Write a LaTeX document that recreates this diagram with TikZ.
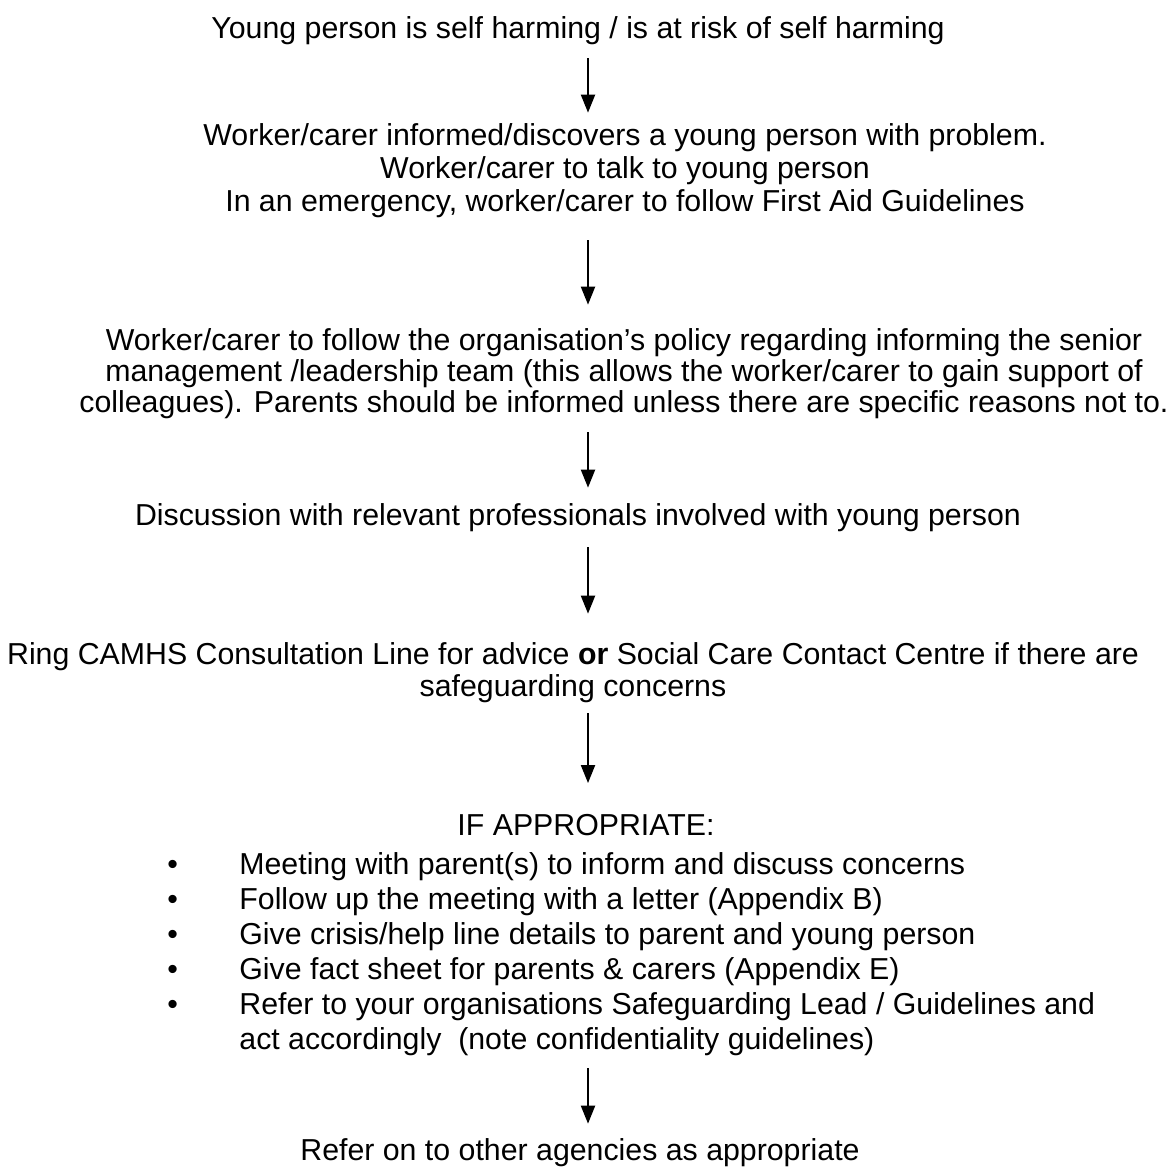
\documentclass[tikz,border=0pt]{standalone}
\usepackage{fontspec}
\setmainfont{Liberation Sans}
\usetikzlibrary{arrows.meta}

\tikzset{
  steptext/.style={inner sep=0pt, align=center, anchor=base,
    font=\fontsize{15.15pt}{16pt}\selectfont},
  flowarrow/.style={line width=1pt, -{Triangle[width=7pt,length=9pt]}},
}

\begin{document}
\begin{tikzpicture}[x=0.5pt, y=-0.5pt]
	\useasboundingbox (0,0) rectangle (1170,1169);
	\coordinate (spine) at (588,0);

	% multi-line nodes sit on the baseline of their last line
	\node[steptext] (young) at (578,38) {Young person is self harming / is at risk of self harming};
	\node[steptext, font=\fontsize{15.15pt}{16.5pt}\selectfont] (inform) at (625,211)
		{Worker/carer informed/discovers a young person with problem.\\
		Worker/carer to talk to young person\\
		In an emergency, worker/carer to follow First Aid Guidelines};
	\node[steptext, font=\fontsize{15.15pt}{15.5pt}\selectfont] (policy) at (624,412)
		{Worker/carer to follow the organisation’s policy regarding informing the senior\\
		management /leadership team (this allows the worker/carer to gain support of\\
		colleagues). Parents should be informed unless there are specific reasons not to.};
	\node[steptext] (discuss) at (578,525) {Discussion with relevant professionals involved with young person};
	\node[steptext] (ring) at (573,696)
		{Ring CAMHS Consultation Line for advice \textbf{or} Social Care Contact Centre if there are\\
		safeguarding concerns};
	\node[steptext] (ifapp) at (586,835) {IF APPROPRIATE:};
	\node[anchor=base west, inner sep=0pt, font=\fontsize{15.15pt}{17.5pt}\selectfont] (todo) at (167,874)
		{\begin{tabular}[t]{@{}p{36pt}@{}l@{}}
		\textbullet & Meeting with parent(s) to inform and discuss concerns\\
		\textbullet & Follow up the meeting with a letter (Appendix B)\\
		\textbullet & Give crisis/help line details to parent and young person\\
		\textbullet & Give fact sheet for parents \& carers (Appendix E)\\
		\textbullet & Refer to your organisations Safeguarding Lead / Guidelines and\\
		            & act accordingly\ \ (note confidentiality guidelines)
		\end{tabular}};
	\node[steptext] (refer) at (580,1160) {Refer on to other agencies as appropriate};

	% arrows down the page
	\draw[flowarrow, shorten <=6.8pt, shorten >=5pt] (young.south -| spine) -- (inform.north -| spine);
	\draw[flowarrow, shorten <=11.3pt, shorten >=11.5pt] (inform.south -| spine) -- (policy.north -| spine);
	\draw[flowarrow, shorten <=6.8pt, shorten >=7.5pt] (policy.south -| spine) -- (discuss.north -| spine);
	\draw[flowarrow, shorten <=7.8pt, shorten >=14pt] (discuss.south -| spine) -- (ring.north -| spine);
	\draw[flowarrow, shorten <=5.3pt, shorten >=15.2pt] (ring.south -| spine) -- (ifapp.north -| spine);
	\draw[flowarrow, shorten <=4.2pt, shorten >=7pt] (todo.south -| spine) -- (refer.north -| spine);
\end{tikzpicture}
\end{document}
